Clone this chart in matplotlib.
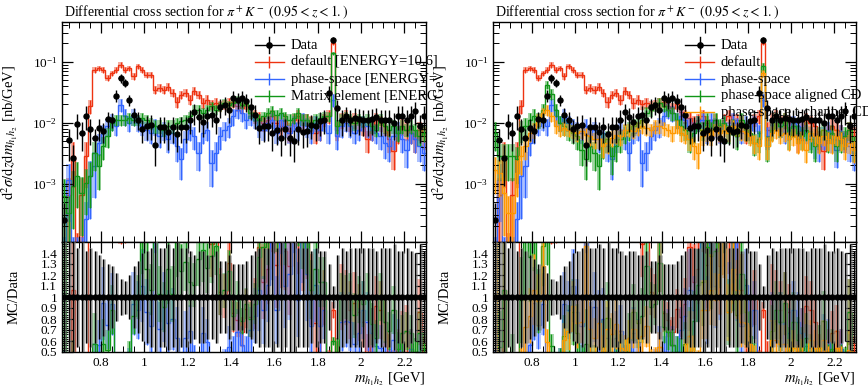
import numpy as np
import matplotlib
matplotlib.use("Agg")
import matplotlib.pyplot as plt
from matplotlib.ticker import MultipleLocator, FixedLocator, FuncFormatter, LogLocator, NullFormatter
from matplotlib.transforms import Bbox, TransformedBbox

plt.rcParams['font.family'] = 'Liberation Serif'
plt.rcParams['mathtext.fontset'] = 'stix'

# binning in m_h1h2 [GeV]
bin_lo, bin_width, n_bins = 0.62, 0.02, 84

data = [2.57e-4, 5.14e-3, 2.64e-3, 9.64e-3, 6.78e-3, 1.30e-2, 7.88e-3, 5.62e-3, 8.19e-3, 7.21e-3,
        1.16e-2, 1.12e-2, 2.77e-2, 5.40e-2, 4.48e-2, 2.39e-2, 1.35e-2, 1.12e-2, 7.88e-3, 8.94e-3,
        9.28e-3, 4.36e-3, 8.49e-3, 8.49e-3, 6.95e-3, 8.49e-3, 6.53e-3, 8.49e-3, 8.49e-3, 1.12e-2,
        1.48e-2, 1.22e-2, 1.01e-2, 1.30e-2, 1.35e-2, 1.12e-2, 1.81e-2, 1.98e-2, 1.60e-2, 2.54e-2,
        2.39e-2, 2.54e-2, 2.24e-2, 1.81e-2, 1.35e-2, 8.19e-3, 8.71e-3, 8.94e-3, 6.78e-3, 7.68e-3,
        5.62e-3, 7.88e-3, 5.62e-3, 4.94e-3, 7.88e-3, 6.95e-3, 7.21e-3, 9.28e-3, 8.94e-3, 1.05e-2,
        1.12e-2, 3.07e-2, 2.30e-1, 1.74e-2, 1.12e-2, 1.27e-2, 1.12e-2, 1.19e-2, 1.15e-2, 1.12e-2,
        1.12e-2, 1.15e-2, 1.22e-2, 1.12e-2, 1.12e-2, 1.12e-2, 9.89e-3, 1.30e-2, 1.30e-2, 1.12e-2,
        1.30e-2, 1.54e-2, 8.94e-3, 1.30e-2]
data_rel = [0.9, 0.55, 0.65, 0.45, 0.5, 0.42, 0.45, 0.42, 0.38, 0.35,
            0.3, 0.28, 0.22, 0.16, 0.15, 0.2, 0.28, 0.33, 0.4, 0.42,
            0.45, 0.55, 0.45, 0.45, 0.48, 0.45, 0.5, 0.45, 0.45, 0.42,
            0.38, 0.42, 0.42, 0.38, 0.38, 0.42, 0.33, 0.33, 0.38, 0.3,
            0.3, 0.3, 0.33, 0.38, 0.42, 0.45, 0.45, 0.45, 0.5, 0.45,
            0.5, 0.45, 0.5, 0.55, 0.45, 0.45, 0.45, 0.42, 0.45, 0.42,
            0.42, 0.3, 0.1, 0.38, 0.45, 0.42, 0.45, 0.45, 0.45, 0.45,
            0.45, 0.45, 0.42, 0.45, 0.45, 0.45, 0.48, 0.42, 0.42, 0.45,
            0.42, 0.4, 0.48, 0.42]

default = [5e-5, 6.6e-4, 2.8e-3, 8e-5, 6.6e-4, 2.8e-3, 1.86e-2, 7.4e-2, 7.9e-2, 7.4e-2,
           5.4e-2, 6.5e-2, 7.4e-2, 8.9e-2, 7.4e-2, 7.9e-2, 5.75e-2, 8.4e-2, 7.4e-2, 6.1e-2,
           6.1e-2, 3.5e-2, 3.7e-2, 3.5e-2, 3.9e-2, 3.1e-2, 2.2e-2, 2.9e-2, 3.1e-2, 2.4e-2,
           3.3e-2, 2.9e-2, 2.1e-2, 2.4e-2, 2.0e-2, 2.1e-2, 1.9e-2, 2.0e-2, 2.1e-2, 2.16e-2,
           1.9e-2, 1.74e-2, 2.0e-2, 1.48e-2, 1.27e-2, 1.19e-2, 9.9e-3, 1.12e-2, 1.27e-2, 9.9e-3,
           8.7e-3, 1.12e-2, 7.2e-3, 1.12e-2, 1.27e-2, 1.05e-2, 1.12e-2, 9.9e-3, 6.8e-3, 7.7e-3,
           1.12e-2, 1.27e-2, 2.03e-1, 7.7e-3, 1.12e-2, 1.27e-2, 9.9e-3, 1.12e-2, 9.9e-3, 8.7e-3,
           5.3e-3, 7.7e-3, 1.12e-2, 9.9e-3, 8.7e-3, 5.3e-3, 3.4e-3, 6.8e-3, 8.7e-3, 7.7e-3,
           6.8e-3, 5.3e-3, 7.7e-3, 6.0e-3]
default_rel = [0.9, 0.9, 0.7, 0.9, 0.9, 0.7, 0.25, 0.1, 0.1, 0.1,
               0.12, 0.1, 0.1, 0.1, 0.1, 0.1, 0.12, 0.1, 0.1, 0.12,
               0.12, 0.15, 0.15, 0.15, 0.15, 0.15, 0.2, 0.15, 0.15, 0.18,
               0.15, 0.15, 0.2, 0.18, 0.2, 0.2, 0.2, 0.2, 0.2, 0.2,
               0.2, 0.2, 0.2, 0.22, 0.25, 0.25, 0.3, 0.25, 0.25, 0.3,
               0.3, 0.25, 0.35, 0.25, 0.25, 0.3, 0.25, 0.3, 0.35, 0.35,
               0.25, 0.25, 0.08, 0.35, 0.3, 0.25, 0.3, 0.3, 0.3, 0.3,
               0.4, 0.35, 0.3, 0.3, 0.3, 0.4, 0.5, 0.35, 0.3, 0.35,
               0.35, 0.4, 0.35, 0.4]

phase_space = [7e-5, 1.16e-3, 7e-5, 7e-5, 7e-5, 2.6e-4, 1.32e-3, 1.93e-3, 4.65e-3, 6.8e-3,
               8.7e-3, 1.05e-2, 8.7e-3, 1.98e-2, 1.27e-2, 9.9e-3, 1.27e-2, 9.9e-3, 8.7e-3, 7.7e-3,
               6.8e-3, 8.7e-3, 6.0e-3, 7.7e-3, 5.3e-3, 6.8e-3, 4.1e-3, 2.5e-3, 5.3e-3, 7.7e-3,
               6.0e-3, 3.2e-3, 6.8e-3, 7.7e-3, 2.2e-3, 3.2e-3, 6.0e-3, 7.7e-3, 8.7e-3, 1.27e-2,
               1.64e-2, 1.44e-2, 1.12e-2, 1.27e-2, 1.12e-2, 8.7e-3, 7.7e-3, 9.9e-3, 1.12e-2, 6.8e-3,
               1.12e-2, 8.7e-3, 6.8e-3, 9.9e-3, 7.7e-3, 1.12e-2, 8.7e-3, 6.8e-3, 9.9e-3, 7.7e-3,
               9.9e-3, 6.8e-3, 2.4e-2, 6.0e-3, 8.7e-3, 9.9e-3, 8.7e-3, 6.8e-3, 7.7e-3, 9.9e-3,
               8.7e-3, 7.7e-3, 6.8e-3, 6.0e-3, 4.65e-3, 4.1e-3, 6.0e-3, 7.7e-3, 5.3e-3, 3.6e-3,
               6.8e-3, 5.3e-3, 4.1e-3, 3.2e-3]
phase_space_rel = [0.9, 0.8, 0.9, 0.9, 0.9, 0.9, 0.8, 0.7, 0.4, 0.35,
                   0.3, 0.3, 0.3, 0.25, 0.3, 0.3, 0.3, 0.3, 0.3, 0.35,
                   0.35, 0.3, 0.35, 0.35, 0.4, 0.35, 0.45, 0.55, 0.4, 0.35,
                   0.4, 0.5, 0.35, 0.35, 0.6, 0.5, 0.4, 0.35, 0.35, 0.3,
                   0.3, 0.3, 0.3, 0.3, 0.3, 0.35, 0.35, 0.3, 0.3, 0.35,
                   0.3, 0.35, 0.35, 0.3, 0.35, 0.3, 0.35, 0.35, 0.3, 0.35,
                   0.3, 0.35, 0.25, 0.4, 0.35, 0.3, 0.35, 0.35, 0.35, 0.3,
                   0.35, 0.35, 0.35, 0.4, 0.45, 0.45, 0.4, 0.35, 0.4, 0.5,
                   0.35, 0.4, 0.45, 0.5]

matrix_element = [6.2e-4, 3.3e-4, 9e-4, 1.32e-3, 7.0e-4, 1.03e-3, 1.32e-3, 3.2e-3, 1.93e-3, 4.1e-3,
                  6.0e-3, 9.9e-3, 1.12e-2, 1.12e-2, 1.12e-2, 1.19e-2, 1.12e-2, 1.12e-2, 1.19e-2, 1.12e-2,
                  9.9e-3, 8.7e-3, 8.7e-3, 7.7e-3, 8.7e-3, 8.7e-3, 9.9e-3, 1.05e-2, 1.12e-2, 1.27e-2,
                  1.64e-2, 1.64e-2, 1.44e-2, 1.64e-2, 1.85e-2, 1.64e-2, 1.85e-2, 2.1e-2, 1.98e-2, 2.1e-2,
                  2.39e-2, 1.98e-2, 2.1e-2, 1.44e-2, 1.27e-2, 1.12e-2, 1.27e-2, 1.44e-2, 1.54e-2, 1.35e-2,
                  1.44e-2, 1.27e-2, 1.12e-2, 1.19e-2, 1.44e-2, 1.12e-2, 1.12e-2, 9.9e-3, 1.12e-2, 1.19e-2,
                  1.27e-2, 1.27e-2, 1.38e-1, 8.7e-3, 1.12e-2, 1.27e-2, 1.12e-2, 9.9e-3, 1.12e-2, 1.05e-2,
                  1.12e-2, 8.7e-3, 7.7e-3, 1.12e-2, 8.7e-3, 7.7e-3, 8.7e-3, 6.8e-3, 8.7e-3, 7.7e-3,
                  8.7e-3, 7.7e-3, 6.0e-3, 6.8e-3]
matrix_element_rel = [0.9, 0.9, 0.8, 0.7, 0.8, 0.7, 0.7, 0.5, 0.6, 0.4,
                      0.35, 0.25, 0.2, 0.2, 0.2, 0.2, 0.2, 0.2, 0.2, 0.2,
                      0.22, 0.25, 0.25, 0.25, 0.25, 0.25, 0.22, 0.2, 0.2, 0.2,
                      0.18, 0.18, 0.2, 0.18, 0.18, 0.18, 0.18, 0.15, 0.15, 0.15,
                      0.15, 0.15, 0.15, 0.2, 0.2, 0.22, 0.2, 0.2, 0.2, 0.2,
                      0.2, 0.2, 0.22, 0.2, 0.2, 0.22, 0.22, 0.25, 0.22, 0.2,
                      0.2, 0.2, 0.06, 0.25, 0.22, 0.2, 0.22, 0.25, 0.22, 0.22,
                      0.22, 0.25, 0.25, 0.22, 0.25, 0.25, 0.25, 0.3, 0.25, 0.25,
                      0.25, 0.25, 0.3, 0.3]

aligned_cd = [6.8e-3, 2.8e-3, 2.8e-3, 2.8e-3, 2.8e-3, 2.5e-3, 7.7e-3, 8.7e-3, 1.12e-2, 1.27e-2,
              1.12e-2, 1.64e-2, 4.2e-2, 3.0e-2, 1.64e-2, 9.9e-3, 8.7e-3, 7.7e-3, 6.8e-3, 6.0e-3,
              3.6e-3, 2.5e-3, 4.1e-3, 3.2e-3, 1.93e-3, 4.65e-3, 5.3e-3, 2.8e-3, 4.1e-3, 5.3e-3,
              6.8e-3, 7.7e-3, 8.7e-3, 9.9e-3, 1.12e-2, 1.44e-2, 1.64e-2, 1.85e-2, 2.1e-2, 1.85e-2,
              1.64e-2, 1.44e-2, 1.12e-2, 8.7e-3, 7.7e-3, 5.3e-3, 6.8e-3, 9.9e-3, 7.7e-3, 1.12e-2,
              7.7e-3, 1.12e-2, 8.7e-3, 9.9e-3, 6.8e-3, 8.7e-3, 6.0e-3, 1.12e-2, 7.7e-3, 6.8e-3,
              4.65e-3, 5.3e-3, 8.4e-2, 4.1e-3, 7.7e-3, 1.12e-2, 8.7e-3, 1.12e-2, 6.0e-3, 8.7e-3,
              6.8e-3, 6.0e-3, 7.7e-3, 5.3e-3, 4.1e-3, 6.0e-3, 7.7e-3, 5.3e-3, 6.8e-3, 4.1e-3,
              5.3e-3, 6.0e-3, 7.7e-3, 4.1e-3]
aligned_cd_rel = [0.5, 0.6, 0.6, 0.6, 0.6, 0.6, 0.4, 0.35, 0.3, 0.3,
                  0.3, 0.25, 0.15, 0.2, 0.25, 0.3, 0.3, 0.35, 0.35, 0.4,
                  0.45, 0.55, 0.45, 0.5, 0.6, 0.45, 0.4, 0.5, 0.45, 0.4,
                  0.35, 0.35, 0.3, 0.3, 0.3, 0.25, 0.25, 0.2, 0.2, 0.2,
                  0.25, 0.25, 0.3, 0.3, 0.35, 0.4, 0.35, 0.3, 0.35, 0.3,
                  0.35, 0.3, 0.3, 0.3, 0.35, 0.3, 0.4, 0.3, 0.35, 0.35,
                  0.4, 0.4, 0.15, 0.45, 0.35, 0.3, 0.35, 0.3, 0.4, 0.35,
                  0.35, 0.4, 0.35, 0.4, 0.45, 0.4, 0.35, 0.4, 0.35, 0.45,
                  0.4, 0.4, 0.35, 0.45]

tchannel_cd = [1.7e-3, 1.5e-3, 7.0e-4, 3.3e-4, 3.3e-4, 1.5e-3, 2.8e-3, 4.1e-3, 6.8e-3, 7.7e-3,
               1.12e-2, 1.44e-2, 1.64e-2, 1.27e-2, 8.7e-3, 7.7e-3, 8.2e-3, 7.7e-3, 7.2e-3, 6.8e-3,
               7.2e-3, 6.4e-3, 6.0e-3, 5.3e-3, 5.3e-3, 4.1e-3, 4.65e-3, 5.6e-3, 6.4e-3, 6.0e-3,
               7.7e-3, 7.7e-3, 7.2e-3, 8.2e-3, 8.7e-3, 8.2e-3, 7.7e-3, 8.7e-3, 8.7e-3, 8.2e-3,
               7.7e-3, 6.8e-3, 8.7e-3, 6.8e-3, 6.4e-3, 5.3e-3, 4.1e-3, 3.2e-3, 6.0e-3, 6.8e-3,
               6.0e-3, 7.7e-3, 6.8e-3, 7.7e-3, 6.8e-3, 8.7e-3, 7.7e-3, 7.2e-3, 6.8e-3, 6.0e-3,
               4.65e-3, 4.1e-3, 6.5e-2, 4.1e-3, 6.8e-3, 7.7e-3, 6.4e-3, 6.8e-3, 5.3e-3, 6.0e-3,
               4.65e-3, 5.3e-3, 3.6e-3, 6.8e-3, 6.0e-3, 4.65e-3, 6.0e-3, 5.3e-3, 4.65e-3, 6.0e-3,
               5.3e-3, 4.1e-3, 4.65e-3, 3.6e-3]
tchannel_cd_rel = [0.6, 0.6, 0.8, 0.9, 0.9, 0.6, 0.5, 0.4, 0.3, 0.3,
                   0.25, 0.2, 0.2, 0.2, 0.25, 0.25, 0.25, 0.25, 0.25, 0.3,
                   0.25, 0.3, 0.3, 0.3, 0.3, 0.35, 0.35, 0.3, 0.3, 0.3,
                   0.25, 0.25, 0.25, 0.25, 0.25, 0.25, 0.25, 0.25, 0.25, 0.25,
                   0.25, 0.3, 0.25, 0.3, 0.3, 0.35, 0.4, 0.45, 0.3, 0.3,
                   0.3, 0.25, 0.3, 0.25, 0.3, 0.25, 0.25, 0.3, 0.3, 0.3,
                   0.35, 0.4, 0.12, 0.4, 0.3, 0.3, 0.3, 0.3, 0.35, 0.3,
                   0.35, 0.35, 0.4, 0.3, 0.3, 0.35, 0.3, 0.35, 0.35, 0.3,
                   0.35, 0.4, 0.35, 0.4]

RED, BLUE, GREEN, ORANGE = '#EE3311', '#3366FF', '#109618', '#FF9900'

left_series = [("default [ENERGY=10.6]", default, default_rel, RED),
               ("phase-space [ENERGY=10.6]", phase_space, phase_space_rel, BLUE),
               ("Matrix element [ENERGY=10.6]", matrix_element, matrix_element_rel, GREEN)]
right_series = [("default", default, default_rel, RED),
                ("phase-space", phase_space, phase_space_rel, BLUE),
                ("phase-space aligned CD", aligned_cd, aligned_cd_rel, GREEN),
                ("phase-space t-channel CD", tchannel_cd, tchannel_cd_rel, ORANGE)]

edges = bin_lo + bin_width * np.arange(n_bins + 1)
centers = 0.5 * (edges[1:] + edges[:-1])
data = np.array(data)
data_err = data * np.array(data_rel)

fig = plt.figure(figsize=(8.68, 3.87), dpi=100)
W, H = 868, 387


def px_axes(x0, y_top, w, h):
    return fig.add_axes([x0 / W, 1 - (y_top + h) / H, w / W, h / H])


def style_axes(ax):
    ax.tick_params(which='both', direction='in', top=True, right=True, labelsize=9.5)
    ax.tick_params(which='major', length=8, width=0.9)
    ax.tick_params(which='minor', length=4, width=0.7)
    for s in ax.spines.values():
        s.set_linewidth(1.0)
    ax.set_xlim(0.62, 2.30)
    ax.xaxis.set_major_locator(MultipleLocator(0.2))
    ax.xaxis.set_minor_locator(MultipleLocator(0.05))


def draw_mc(ax, vals, rel, color, floor, alpha=0.4):
    vals = np.asarray(vals)
    rel = np.asarray(rel)
    lo = np.maximum(vals * (1 - rel), floor)
    hi = vals * (1 + rel)
    ax.stairs(hi, edges, baseline=lo, fill=True, color=color, alpha=alpha, lw=0)
    ax.stairs(vals, edges, baseline=None, color=color, lw=1.0)
    ax.vlines(centers, lo, hi, color=color, lw=0.9)


def make_panel(x0, width, series, legend_clip):
    ax = px_axes(x0, 22, width, 220)
    rx = px_axes(x0, 242, width, 110)
    style_axes(ax)
    style_axes(rx)

    # main panel
    ax.set_yscale('log')
    ax.set_ylim(1.1e-4, 0.45)
    ax.yaxis.set_major_locator(LogLocator(base=10, numticks=10))
    ax.yaxis.set_minor_locator(LogLocator(base=10, subs=np.arange(2, 10), numticks=10))
    ax.yaxis.set_minor_formatter(NullFormatter())
    ax.tick_params(axis='x', labelbottom=False)
    for name, vals, rel, color in series:
        draw_mc(ax, vals, rel, color, 1e-6)
    ax.errorbar(centers, data, yerr=data_err, xerr=bin_width / 2, fmt='o', color='black',
                ms=3.6, elinewidth=1.0, capsize=0, zorder=5)
    ax.set_ylabel(r'$\mathrm{d}^2\sigma/\mathrm{d}z\mathrm{d}m_{h_1h_2}$ [nb/GeV]', fontsize=10.5)
    ax.text(0.005, 1.027, r'Differential cross section for $\pi^+K^-$ $(0.95 < z < 1.)$',
            transform=ax.transAxes, fontsize=10, ha='left', va='baseline')

    # legend drawn by hand
    row_y = [0.895, 0.818, 0.740, 0.664, 0.590]
    hx0, hx1, tx = 0.530, 0.610, 0.628
    entries = [("Data", 'black')] + [(n, c) for n, _, _, c in series]
    for k, (label, color) in enumerate(entries):
        y = row_y[k]
        ax.plot([hx0, hx1], [y, y], transform=ax.transAxes, color=color, lw=1.0, clip_on=False, zorder=6)
        ax.plot([(hx0 + hx1) / 2], [y], transform=ax.transAxes, color=color,
                marker='o' if k == 0 else '|', ms=3.8 if k == 0 else 9, mew=1.0,
                clip_on=False, zorder=6)
        if k == 0:
            ax.plot([(hx0 + hx1) / 2] * 2, [y - 0.035, y + 0.035], transform=ax.transAxes,
                    color=color, lw=1.0, clip_on=False, zorder=6)
        t = fig.text(tx, y, label, transform=ax.transAxes, fontsize=10.5, va='center', ha='left',
                     zorder=6)
        if legend_clip is not None:
            t.set_clip_box(TransformedBbox(Bbox.from_extents(0, 0, legend_clip / W, 1), fig.transFigure))
            t.set_clip_on(True)

    # ratio panel
    rx.set_ylim(0.5, 1.5)
    ticks = [0.5, 0.6, 0.7, 0.8, 0.9, 1.0, 1.1, 1.2, 1.3, 1.4]
    rx.yaxis.set_major_locator(FixedLocator(ticks))
    rx.yaxis.set_minor_locator(MultipleLocator(0.02))
    rx.yaxis.set_major_formatter(FuncFormatter(lambda v, p: f'{v:g}'))
    rx.xaxis.set_major_formatter(FuncFormatter(lambda v, p: f'{v:g}'))
    for name, vals, rel, color in series:
        ratio = np.asarray(vals) / data
        draw_mc(rx, ratio, rel, color, 0.0, alpha=0.35)
    rx.vlines(centers + 0.006, 1 - np.array(data_rel), 1 + np.array(data_rel), color='0.5',
              lw=1.8, alpha=0.7, zorder=4)
    rx.errorbar(centers, np.ones(n_bins), yerr=np.array(data_rel), xerr=bin_width / 2, fmt='o',
                color='black', ms=3.6, elinewidth=1.0, capsize=0, zorder=5)
    rx.set_ylabel('MC/Data', fontsize=10.5)
    rx.set_xlabel(r'$m_{h_1h_2}$ [GeV]', fontsize=10.5, loc='right', labelpad=1)
    return ax, rx


axL, rxL = make_panel(62, 364, left_series, 437)
axR, rxR = make_panel(493, 363, right_series, None)
for a in (axL, rxL, axR, rxR):
    a.yaxis.set_label_coords(-0.115, 0.5)

fig.savefig('out.png', dpi=100)
